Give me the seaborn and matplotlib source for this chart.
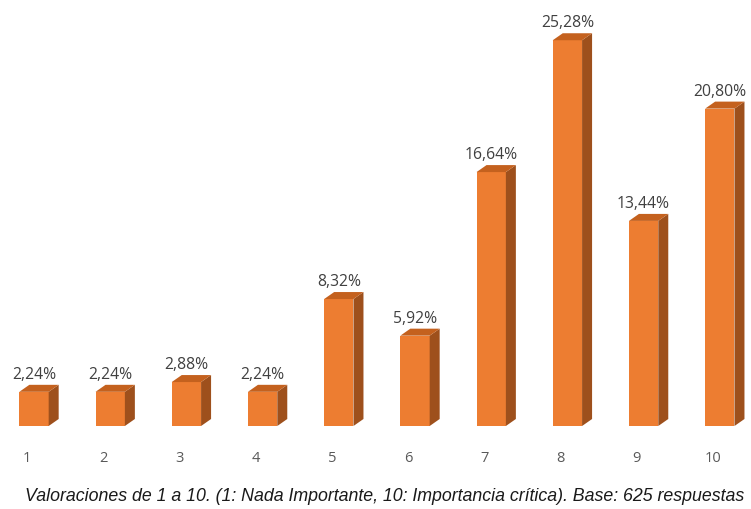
import matplotlib
matplotlib.use("Agg")
import matplotlib.pyplot as plt
import matplotlib.transforms as mtransforms
from matplotlib.patches import Polygon
import seaborn as sns
import pandas as pd

# Ratings 1..10 and share of responses (%)
ratings = ["1", "2", "3", "4", "5", "6", "7", "8", "9", "10"]
shares = [2.24, 2.24, 2.88, 2.24, 8.32, 5.92, 16.64, 25.28, 13.44, 20.80]
caption = ("Valoraciones de 1 a 10. (1: Nada Importante, 10: Importancia crítica). "
           "Base: 625 respuestas")

FRONT = "#ED7D31"
TOP = "#C4611E"
SIDE = "#9E501C"

sns.set_theme(style="white")
plt.rcParams["font.family"] = ["Open Sans", "DejaVu Sans"]

W, H = 751, 510
fig = plt.figure(figsize=(W / 100, H / 100), dpi=100)
ax = fig.add_axes([0, 83 / H, 1, 412 / H])

df = pd.DataFrame({"rating": ratings, "share": shares})
sns.barplot(data=df, x="rating", y="share", color=FRONT, width=0.385,
            saturation=1, ax=ax, zorder=3)

step = 76.2
ax.set_xlim(-34 / step, (W - 34) / step)
ax.set_ylim(0, 27.0)

# depth of the extruded bars, in pixels
dx_px, dy_px = 10, 7
px_to_data = ax.transData.inverted()

def px_offset(x, y):
    X, Y = ax.transData.transform((x, y))
    return px_to_data.transform((X + dx_px, Y + dy_px))

for bar, val in zip(ax.patches, shares):
    bar.set_edgecolor("none")
    x0 = bar.get_x()
    x1 = x0 + bar.get_width()
    h = bar.get_height()
    bx0, by0 = px_offset(x0, h)
    bx1, by1 = px_offset(x1, h)
    bx1b, by1b = px_offset(x1, 0)
    top = Polygon([(x0, h), (x1, h), (bx1, by1), (bx0, by0)], closed=True,
                  facecolor=TOP, edgecolor="none", zorder=3)
    side = Polygon([(x1, 0), (x1, h), (bx1, by1), (bx1b, by1b)], closed=True,
                   facecolor=SIDE, edgecolor="none", zorder=3)
    ax.add_patch(side)
    ax.add_patch(top)
    label = f"{val:.2f}%".replace(".", ",")
    ax.annotate(label, xy=((x0 + x1) / 2, h), xytext=(0, dy_px * 0.72 + 2),
                textcoords="offset points", ha="center", va="bottom",
                fontsize=11.3, color="#404040")

ax.set_xlabel("")
ax.set_ylabel("")
ax.set_yticks([])
ax.tick_params(axis="x", length=0, pad=17, labelsize=10.5, labelcolor="#595959")
shift = mtransforms.ScaledTranslation(-7 / 100, 0, fig.dpi_scale_trans)
for lbl in ax.get_xticklabels():
    lbl.set_transform(lbl.get_transform() + shift)
for s in ax.spines.values():
    s.set_visible(False)

fig.text(385 / W, 1 - 497 / H, caption, ha="center", va="center",
         fontsize=12.8, style="italic", color="#1a1a1a",
         family=["Liberation Sans Narrow", "Liberation Sans", "DejaVu Sans"])

fig.savefig("out.png", dpi=100)
